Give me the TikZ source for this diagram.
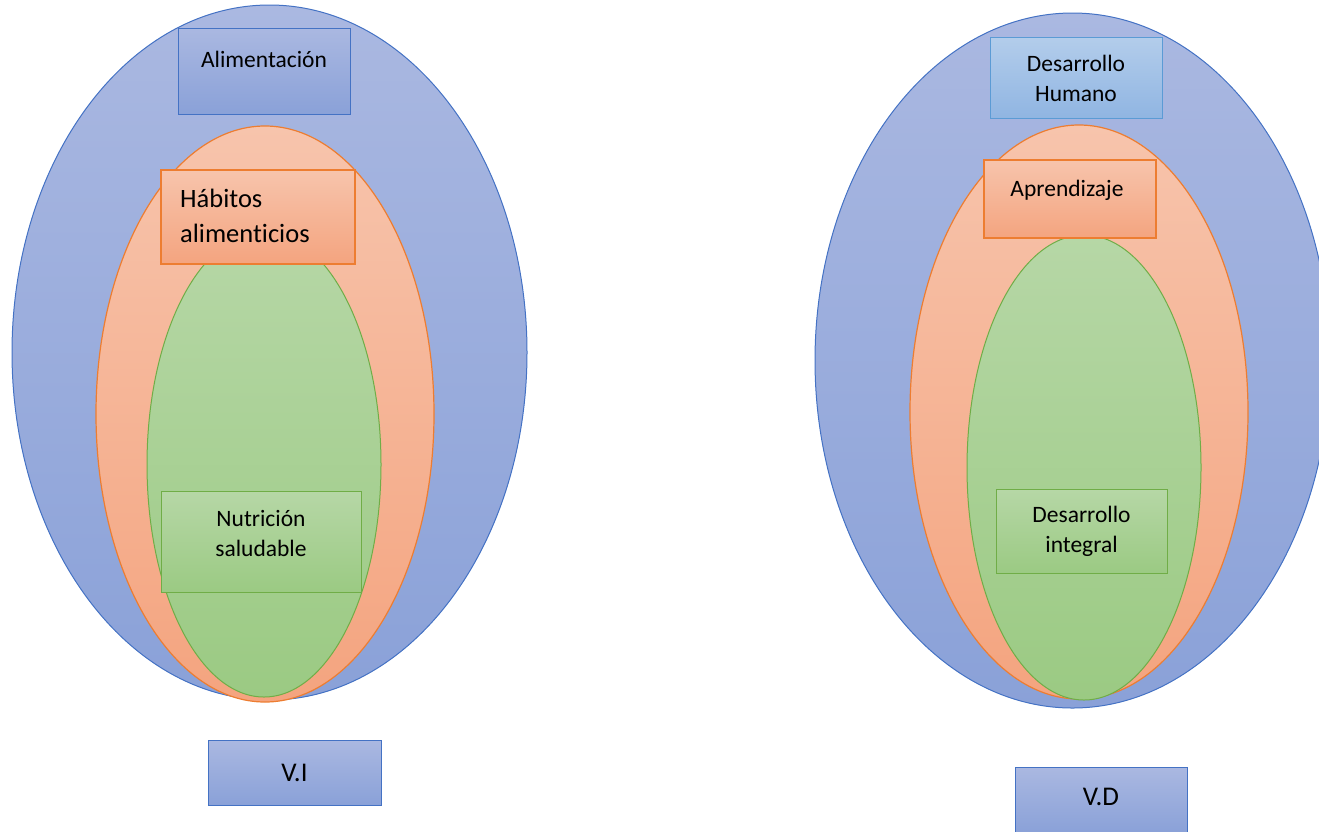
\documentclass[tikz,border=0pt]{standalone}
\usepackage{fontspec}
\setmainfont[Ligatures=NoCommon]{Carlito}
\usetikzlibrary{shapes.geometric}

% Office-like palette
\definecolor{bluetop}{HTML}{AAB8E1}
\definecolor{bluebot}{HTML}{8AA1D8}
\definecolor{blueline}{HTML}{4472C4}
\definecolor{lbluetop}{HTML}{B3CDEB}
\definecolor{lbluebot}{HTML}{90B5E2}
\definecolor{lblueline}{HTML}{5B9BD5}
\definecolor{orgtop}{HTML}{F7C4AC}
\definecolor{orgbot}{HTML}{F4A47F}
\definecolor{orgline}{HTML}{ED7D31}
\definecolor{grntop}{HTML}{B6D7A6}
\definecolor{grnbot}{HTML}{9BCA83}
\definecolor{grnline}{HTML}{70AD47}

\tikzset{
  blueshape/.style={draw=blueline, line width=1pt, top color=bluetop, bottom color=bluebot},
  lblueshape/.style={draw=lblueline, line width=1pt, top color=lbluetop, bottom color=lbluebot},
  orgshape/.style={draw=orgline, line width=1.2pt, top color=orgtop, bottom color=orgbot},
  grnshape/.style={draw=grnline, line width=1pt, top color=grntop, bottom color=grnbot},
  oval/.style={ellipse, inner sep=0pt},
  panel/.style={rectangle, inner sep=0pt},
  caption/.style={font=\fontsize{23.5}{30}\selectfont, text=black, inner sep=0pt, align=center},
}

\begin{document}
\begin{tikzpicture}[x=1pt, y=-1pt]
\useasboundingbox (0,0) rectangle (1319,831);

% ---------- left group (V.I) ----------
\node[oval, blueshape, minimum width=515pt, minimum height=695pt] (louter) at (269.5,352.5) {};
\node[panel, blueshape, minimum width=172pt, minimum height=86pt] (alibox) at (264,71) {};
\node[caption] (alitext) at (264,59.5) {Alimentación};
\node[oval, orgshape, minimum width=338pt, minimum height=576pt] (lmid) at (265,414) {};
\node[oval, grnshape, minimum width=234pt, minimum height=465pt] (linner) at (264,464.5) {};
\node[panel, orgshape, minimum width=194pt, minimum height=94pt] (habbox) at (258,217) {};
\node[caption, font=\fontsize{26.5}{35}\selectfont, align=left, anchor=west] (habtext) at (180,216) {Hábitos\\alimenticios};
\node[panel, grnshape, minimum width=200pt, minimum height=101pt] (nutbox) at (261,541.5) {};
\node[caption] (nuttext) at (261,533) {Nutrición\\saludable};
\node[panel, blueshape, minimum width=173pt, minimum height=65pt] (vibox) at (294.5,772.5) {};
\node[caption, font=\fontsize{27}{32}\selectfont] (vitext) at (294.5,772.5) {V.I};

% ---------- right group (V.D) ----------
\node[oval, blueshape, minimum width=515pt, minimum height=695pt] (router) at (1072.5,360.5) {};
\node[panel, lblueshape, minimum width=172pt, minimum height=81pt] (dhbox) at (1076,77.5) {};
\node[caption] (dhtext) at (1076,78) {Desarrollo\\Humano};
\node[oval, orgshape, minimum width=338pt, minimum height=574pt] (rmid) at (1079,412) {};
\node[oval, grnshape, minimum width=234pt, minimum height=465pt] (rinner) at (1084,467.5) {};
\node[panel, orgshape, minimum width=172pt, minimum height=78pt] (aprbox) at (1070,199) {};
\node[caption] (aprtext) at (1067,190) {Aprendizaje};
\node[panel, grnshape, minimum width=171pt, minimum height=84pt] (dibox) at (1081.5,531) {};
\node[caption] (ditext) at (1081.5,531.5) {Desarrollo\\integral};
\node[panel, blueshape, minimum width=172pt, minimum height=66pt] (vdbox) at (1101,800) {};
\node[caption, font=\fontsize{27}{32}\selectfont] (vdtext) at (1101,797) {V.D};
\end{tikzpicture}
\end{document}
